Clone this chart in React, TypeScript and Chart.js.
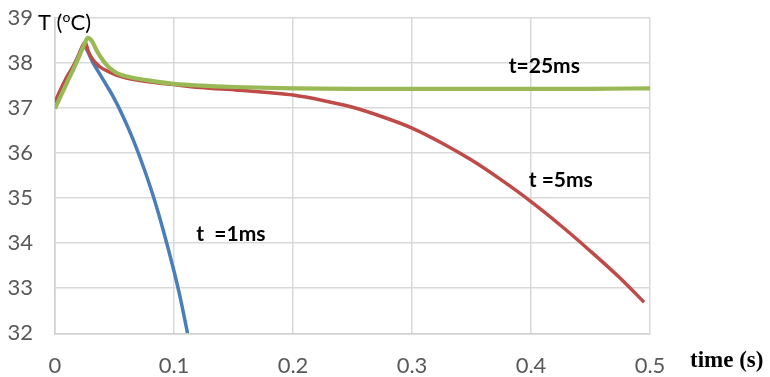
import { useEffect, useRef } from "react";
import { Chart, registerables } from "chart.js";

Chart.register(...registerables);

// t = 1 ms (blue)
const blueTime = [0, 0.005, 0.01, 0.015, 0.02, 0.0238, 0.0323, 0.0407, 0.049, 0.0575, 0.066, 0.0744, 0.0828, 0.091, 0.0996, 0.105, 0.1114];
const blueTemp = [37.12, 37.4, 37.68, 37.9, 38.12, 38.36, 37.98, 37.61, 37.24, 36.79, 36.27, 35.68, 35.02, 34.28, 33.42, 32.82, 32.0];

// t = 5 ms (red)
const redTime = [0, 0.005, 0.01, 0.015, 0.02, 0.0253, 0.028, 0.031, 0.035, 0.038, 0.045, 0.052, 0.06, 0.07, 0.08, 0.097, 0.122, 0.153, 0.181, 0.2, 0.225, 0.25, 0.275, 0.3, 0.325, 0.35, 0.375, 0.4, 0.425, 0.45, 0.475, 0.495];
const redTemp = [37.12, 37.42, 37.68, 37.9, 38.18, 38.45, 38.25, 38.1, 37.97, 37.9, 37.8, 37.72, 37.66, 37.61, 37.57, 37.52, 37.45, 37.39, 37.33, 37.28, 37.16, 37.01, 36.8, 36.55, 36.22, 35.84, 35.4, 34.92, 34.39, 33.82, 33.22, 32.69];

// t = 25 ms (green)
const greenTime = [0, 0.005, 0.01, 0.015, 0.02, 0.0245, 0.0276, 0.031, 0.035, 0.0395, 0.0437, 0.048, 0.052, 0.058, 0.066, 0.08, 0.1, 0.122, 0.15, 0.2, 0.25, 0.3, 0.35, 0.4, 0.45, 0.5];
const greenTemp = [36.98, 37.27, 37.55, 37.83, 38.12, 38.4, 38.55, 38.48, 38.27, 38.08, 37.94, 37.84, 37.77, 37.71, 37.66, 37.6, 37.53, 37.49, 37.46, 37.43, 37.42, 37.42, 37.42, 37.42, 37.42, 37.43];

// curve labels (left edge time, vertical centre temperature)
const curveLabels = ["t=25ms", "t =5ms", "t  =1ms"];
const curveLabelTime = [0.3813, 0.3981, 0.1187];
const curveLabelTemp = [37.92, 35.39, 34.2];

const xTitle = "time (s)";
const yTitle = ["T (", "o", "C)"];

const toPoints = (xs: number[], ys: number[]) => xs.map((x, i) => ({ x, y: ys[i] }));

const textPlugin = {
  id: "textPlugin",
  afterDraw(chart: any) {
    const { ctx, chartArea, scales } = chart;
    const xs = scales.x;
    const ys = scales.y;
    ctx.save();
    ctx.fillStyle = "#000000";
    // curve labels
    ctx.font = "bold 21px Lato";
    ctx.textAlign = "left";
    ctx.textBaseline = "middle";
    curveLabels.forEach((lab, i) => {
      ctx.fillText(lab, xs.getPixelForValue(curveLabelTime[i]), ys.getPixelForValue(curveLabelTemp[i]));
    });
    // x title
    ctx.font = "bold 23px 'Liberation Serif'";
    ctx.textBaseline = "alphabetic";
    ctx.fillText(xTitle, chartArea.right + 40, chartArea.bottom + 34);
    // y title with superscript
    let x = chartArea.left - 17;
    const yb = chartArea.top + 12;
    ctx.font = "22px Lato";
    ctx.fillText(yTitle[0], x, yb);
    x += ctx.measureText(yTitle[0]).width;
    ctx.font = "14px Lato";
    ctx.fillText(yTitle[1], x, yb - 8);
    x += ctx.measureText(yTitle[1]).width;
    ctx.font = "22px Lato";
    ctx.fillText(yTitle[2], x, yb);
    ctx.restore();
  },
};

export default function App() {
  const ref = useRef<HTMLCanvasElement>(null);
  useEffect(() => {
    if (!ref.current) return;
    const chart = new Chart(ref.current, {
      type: "scatter",
      data: {
        datasets: [
          {
            label: "t=25ms",
            data: toPoints(greenTime, greenTemp),
            borderColor: "#98B954",
            borderWidth: 4.2,
            showLine: true,
            pointRadius: 0,
            cubicInterpolationMode: "monotone",
            order: 0,
          },
          {
            label: "t=5ms",
            data: toPoints(redTime, redTemp),
            borderColor: "#BE4B48",
            borderWidth: 3.5,
            showLine: true,
            pointRadius: 0,
            cubicInterpolationMode: "monotone",
            order: 1,
          },
          {
            label: "t=1ms",
            data: toPoints(blueTime, blueTemp),
            borderColor: "#4A7EBB",
            borderWidth: 3.5,
            showLine: true,
            pointRadius: 0,
            cubicInterpolationMode: "monotone",
            order: 2,
          },
        ],
      },
      options: {
        animation: false,
        responsive: false,
        layout: { padding: { left: 0, right: 120, top: 17.5, bottom: 0 } },
        plugins: { legend: { display: false }, tooltip: { enabled: false } },
        scales: {
          x: {
            type: "linear",
            min: 0,
            max: 0.5,
            afterFit: (s: any) => {
              s.height = 43.7;
            },
            ticks: {
              stepSize: 0.1,
              color: "#595959",
              font: { family: "Lato", size: 22 },
              padding: 0,
            },
            grid: { color: "#d9d9d9", lineWidth: 1.5, drawTicks: true, tickLength: 19, tickColor: "rgba(0,0,0,0)" },
            border: { color: "#d0d0d0", width: 1.5 },
          },
          y: {
            min: 32,
            max: 39,
            afterFit: (s: any) => {
              s.width = 55;
            },
            ticks: {
              stepSize: 1,
              color: "#595959",
              font: { family: "Lato", size: 22 },
              padding: 0,
            },
            grid: { color: "#d9d9d9", lineWidth: 1.5, drawTicks: true, tickLength: 22, tickColor: "rgba(0,0,0,0)" },
            border: { color: "#d0d0d0", width: 1.5 },
          },
        },
      },
      plugins: [textPlugin],
    });
    return () => chart.destroy();
  }, []);
  return (
    <div style={{ position: "absolute", left: 0, top: 0, width: 770, height: 377, background: "#fff" }}>
      <canvas ref={ref} width={770} height={377} style={{ display: "block" }} />
    </div>
  );
}
